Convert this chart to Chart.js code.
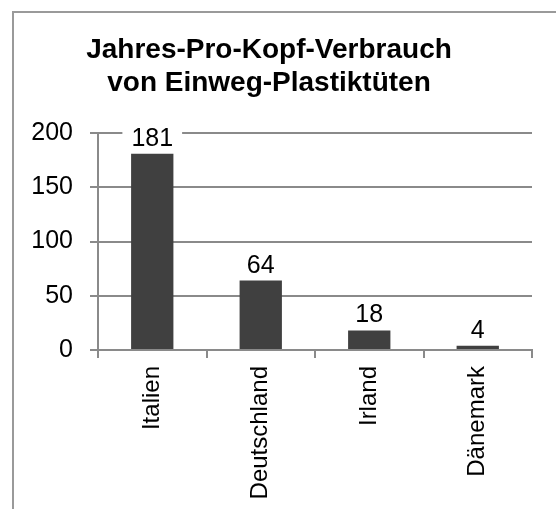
<!DOCTYPE html>
<html>
<head>
<meta charset="utf-8">
<script src="https://cdn.jsdelivr.net/npm/chart.js@4.4.1/dist/chart.umd.min.js"></script>
<style>
  body { margin: 0; background: #fff; overflow: hidden; }
  #frame { position: absolute; left: 12px; top: 11px; width: 600px; height: 600px; border: 2px solid #9a9a9a; }
  #wrap { position: absolute; left: 0; top: 0; width: 556px; height: 509px; }
</style>
</head>
<body>
<div id="frame"></div>
<div id="wrap"><canvas id="barChart" width="556" height="509"></canvas></div>
<script>
var laender = ['Italien', 'Deutschland', 'Irland', 'Dänemark'];
var verbrauch = [181, 64, 18, 4];
var yTicks = [0, 50, 100, 150, 200];

var schrift = '"Liberation Sans", Arial, sans-serif';
var grau = '#8a8a8a';

// Werte ueber den Balken, mit weissem Hintergrund (unterbricht Gitterlinien)
var wertLabels = {
    id: 'wertLabels',
    afterDatasetsDraw: function(chart) {
        var ctx = chart.ctx;
        var meta = chart.getDatasetMeta(0);
        ctx.save();
        ctx.font = '25px ' + schrift;
        ctx.textAlign = 'center';
        ctx.textBaseline = 'alphabetic';
        meta.data.forEach(function(bar, i) {
            var txt = String(verbrauch[i]);
            var w = ctx.measureText(txt).width;
            var base = bar.y - 8;
            ctx.fillStyle = '#fff';
            ctx.fillRect(bar.x - w / 2 - 9, base - 20, w + 18, 24);
            ctx.fillStyle = '#000';
            ctx.fillText(txt, bar.x, base);
        });
        ctx.restore();
    }
};

var ctx = document.getElementById('barChart').getContext('2d');
var myChart = new Chart(ctx, {
    type: 'bar',
    data: {
        labels: laender,
        datasets: [{
            data: verbrauch,
            backgroundColor: '#404040',
            borderWidth: 0,
            categoryPercentage: 1,
            barPercentage: 0.39
        }]
    },
    options: {
        responsive: false,
        animation: false,
        layout: { padding: { left: 6, right: 24, top: 20, bottom: 0 } },
        plugins: {
            legend: { display: false },
            tooltip: { enabled: false },
            title: {
                display: true,
                text: ['Jahres-Pro-Kopf-Verbrauch', 'von Einweg-Plastiktüten'],
                color: '#000',
                font: { family: schrift, size: 28, weight: 'bold', lineHeight: 1.18 },
                padding: { top: 14, bottom: 33 }
            }
        },
        scales: {
            x: {
                grid: { display: true, drawOnChartArea: false, drawTicks: true, tickLength: 8, color: grau, lineWidth: 2, offset: true },
                border: { display: true, color: grau, width: 2 },
                ticks: {
                    color: '#000',
                    font: { family: schrift, size: 24 },
                    maxRotation: 90, minRotation: 90,
                    padding: 8,
                    autoSkip: false
                },
                afterFit: function(scale) { scale.height = 159; }
            },
            y: {
                min: 0,
                max: 200,
                afterBuildTicks: function(scale) {
                    scale.ticks = yTicks.map(function(v) { return { value: v }; });
                },
                grid: { color: grau, lineWidth: 2, drawTicks: true, tickLength: 8 },
                border: { display: true, color: grau, width: 2 },
                ticks: {
                    color: '#000',
                    font: { family: schrift, size: 25 },
                    padding: 17
                },
                afterFit: function(scale) { scale.width = 92; }
            }
        }
    },
    plugins: [wertLabels]
});
</script>
</body>
</html>
